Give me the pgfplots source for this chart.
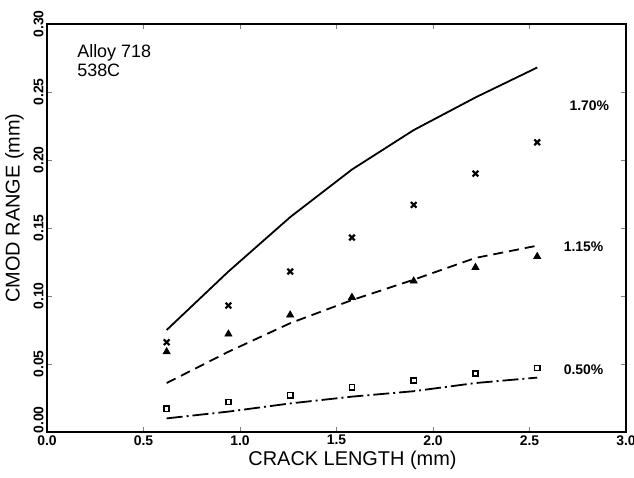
\documentclass[border=0pt]{standalone}
\usepackage{fontspec}
\setmainfont{Liberation Sans}
\usepackage{pgfplots}
\pgfplotsset{compat=1.18}

\begin{document}
\begin{tikzpicture}
\begin{axis}[
    scale only axis,
    width=289.5bp, height=204bp,
    xmin=0, xmax=3.0,
    ymin=0, ymax=0.30,
    xtick={0,0.5,...,3.0},
    ytick={0,0.05,...,0.30},
    xticklabels={0.0,0.5,1.0,1.5,2.0,2.5,3.0},
    yticklabels={\hspace*{12bp}0.00,0.05,0.10,0.15,0.20,0.25,0.30},
    /pgf/number format/assume math mode=true,
    tick label style={font=\fontsize{7}{8}\selectfont\bfseries},
    yticklabel style={rotate=90, anchor=south, inner sep=1.5bp},
    xticklabel style={inner sep=1.5bp},
    major tick length=2.5bp,
    axis line style={line width=0.8bp},
    xlabel={CRACK LENGTH (mm)},
    ylabel={CMOD RANGE (mm)},
    label style={font=\fontsize{10}{12}\selectfont},
    xlabel style={yshift=2bp, xshift=8bp},
    ylabel style={yshift=0bp, xshift=10bp},
    clip=false,
]
% 1.70% solid curve and x-marks
\addplot[black, line width=0.9bp] coordinates {
    (0.62,0.075) (0.94,0.118) (1.26,0.158) (1.58,0.193) (1.90,0.222) (2.22,0.246) (2.54,0.268)};
\addplot[only marks, mark=x, mark size=2bp, mark options={line width=1.1bp}] coordinates {
    (0.62,0.066) (0.94,0.093) (1.26,0.118) (1.58,0.143) (1.90,0.167) (2.22,0.190) (2.54,0.213)};
% 1.15% dashed curve and triangles
\addplot[black, line width=0.9bp, dash pattern=on 5bp off 3bp] coordinates {
    (0.62,0.036) (0.94,0.059) (1.26,0.080) (1.58,0.097) (1.90,0.112) (2.22,0.128) (2.54,0.137)};
\addplot[only marks, mark=triangle*, mark size=2bp] coordinates {
    (0.62,0.059) (0.94,0.072) (1.26,0.086) (1.58,0.099) (1.90,0.111) (2.22,0.121) (2.54,0.129)};
% 0.50% dash-dot curve and squares
\addplot[black, line width=0.9bp, dash pattern=on 8bp off 2bp on 1bp off 2bp] coordinates {
    (0.62,0.010) (0.94,0.015) (1.26,0.021) (1.58,0.026) (1.90,0.030) (2.22,0.036) (2.54,0.040)};
\addplot[only marks, mark=square, mark size=1.3bp, mark options={line width=0.8bp}] coordinates {
    (0.62,0.017) (0.94,0.022) (1.26,0.027) (1.58,0.033) (1.90,0.038) (2.22,0.043) (2.54,0.047)};
\node[anchor=north west, align=left, font=\fontsize{9}{9.5}\selectfont, inner sep=0pt]
    at (axis cs:0.155,0.285) {Alloy 718\\538C};
\node[font=\fontsize{7}{8}\selectfont\bfseries] at (axis cs:2.81,0.240) {1.70\%};
\node[font=\fontsize{7}{8}\selectfont\bfseries] at (axis cs:2.78,0.136) {1.15\%};
\node[font=\fontsize{7}{8}\selectfont\bfseries] at (axis cs:2.78,0.046) {0.50\%};
\end{axis}
\pgfresetboundingbox
\path (-23.5bp,-23bp) rectangle (293.5bp,216bp);
\end{tikzpicture}
\end{document}
